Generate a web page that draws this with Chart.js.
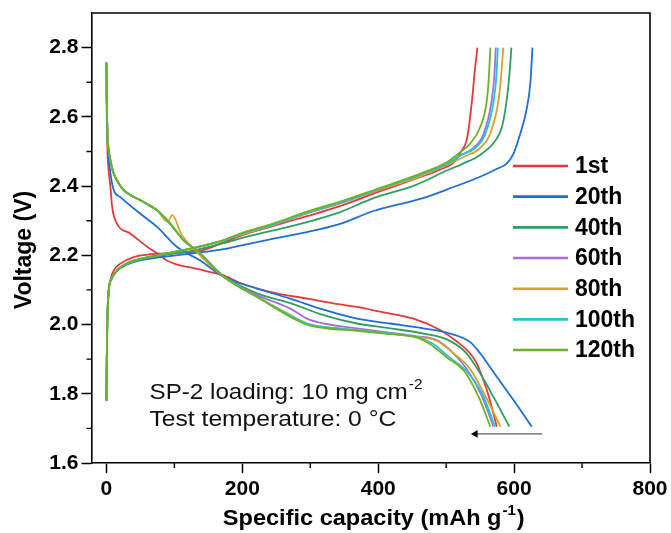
<!DOCTYPE html>
<html><head><meta charset="utf-8">
<script src="https://cdn.jsdelivr.net/npm/chart.js@4.4.1/dist/chart.umd.min.js"></script>
<style>html,body{margin:0;padding:0;background:#fff}#wrap{width:671px;height:533px;position:relative}</style>
</head><body><div id="wrap"><canvas id="c"></canvas></div>
<script>
// ---------- data ----------
const cycles = ['1st', '20th', '40th', '60th', '80th', '100th', '120th'];
const colors = ['#e5393c', '#1f6fd8', '#2f9f5f', '#a46fdc', '#d8a228', '#22c5d6', '#6db325'];

const xMajorTicks = [0, 200, 400, 600, 800];
const xMinorTicks = [100, 300, 500, 700];
const yMajorTicks = [1.6, 1.8, 2.0, 2.2, 2.4, 2.6, 2.8];
const yMinorTicks = [1.7, 1.9, 2.1, 2.3, 2.5, 2.7];

// charge curves (capacity mAh/g, voltage V)
const charge1st_cap = [0, 0.5, 1.2, 3, 6, 12, 20.6, 40, 65, 99, 138, 170, 197, 246, 295, 339, 400, 450, 490, 512, 522, 531, 538, 542, 546];
const charge1st_v   = [1.78, 1.9, 2.0, 2.09, 2.13, 2.16, 2.176, 2.195, 2.203, 2.207, 2.213, 2.235, 2.256, 2.285, 2.313, 2.339, 2.383, 2.418, 2.447, 2.47, 2.5, 2.54, 2.647, 2.73, 2.8];
const charge20th_cap = [0, 0.5, 1.2, 3.4, 7, 15.7, 35, 74.6, 123.5, 172.5, 197, 246, 295, 344, 393, 430, 466, 501, 550, 575, 589, 599, 609, 618, 624, 627];
const charge20th_v   = [1.78, 1.9, 2.0, 2.10, 2.13, 2.155, 2.177, 2.193, 2.205, 2.218, 2.228, 2.248, 2.267, 2.291, 2.328, 2.347, 2.365, 2.39, 2.427, 2.45, 2.465, 2.493, 2.551, 2.618, 2.7, 2.8];
const charge40th_cap = [0, 0.5, 1.2, 3.4, 7, 15.7, 35, 74.6, 123.5, 172.5, 197, 246, 295, 344, 393, 455, 501, 525, 550, 572, 582, 589, 593, 596];
const charge40th_v   = [1.78, 1.9, 2.0, 2.10, 2.13, 2.155, 2.178, 2.197, 2.212, 2.235, 2.249, 2.272, 2.296, 2.325, 2.365, 2.403, 2.445, 2.465, 2.49, 2.53, 2.57, 2.647, 2.72, 2.8];
const charge60th_cap = [0, 0.5, 1.2, 3.4, 7, 15.7, 35, 74.6, 123.5, 172.5, 197, 246, 295, 344, 393, 462, 500, 520, 540, 555, 567, 571, 573];
const charge60th_v   = [1.78, 1.9, 2.0, 2.10, 2.13, 2.157, 2.181, 2.2, 2.219, 2.243, 2.259, 2.287, 2.321, 2.35, 2.384, 2.43, 2.462, 2.487, 2.51, 2.55, 2.647, 2.72, 2.8];
const charge80th_cap = [0, 0.5, 1.2, 3.4, 7, 15.7, 35, 74.6, 123.5, 172.5, 197, 246, 295, 344, 393, 462, 500, 525.5, 550, 564.7, 577, 581, 584];
const charge80th_v   = [1.78, 1.9, 2.0, 2.10, 2.13, 2.157, 2.181, 2.2, 2.219, 2.243, 2.259, 2.288, 2.322, 2.351, 2.384, 2.428, 2.46, 2.484, 2.51, 2.551, 2.647, 2.72, 2.8];
const charge100th_cap = [0, 0.5, 1.2, 3.4, 7, 15.7, 35, 74.6, 123.5, 172.5, 197, 246, 295, 344, 393, 462, 500, 520, 542.6, 557.4, 570, 574, 576];
const charge100th_v   = [1.78, 1.9, 2.0, 2.10, 2.13, 2.157, 2.181, 2.2, 2.219, 2.243, 2.261, 2.289, 2.323, 2.352, 2.386, 2.433, 2.463, 2.488, 2.51, 2.55, 2.647, 2.72, 2.8];
const charge120th_cap = [0, 0.5, 1.2, 3.4, 7, 15.7, 35, 74.6, 123.5, 172.5, 197, 246, 295, 344, 393, 462, 500, 520.6, 535, 550, 559.8, 563, 565];
const charge120th_v   = [1.78, 1.9, 2.0, 2.10, 2.13, 2.157, 2.181, 2.2, 2.219, 2.244, 2.263, 2.292, 2.326, 2.355, 2.388, 2.436, 2.468, 2.498, 2.522, 2.57, 2.647, 2.72, 2.8];

// discharge curves
const dis1st_cap = [0, 0.5, 1.5, 3, 5.9, 8.4, 15.7, 35, 60, 75, 89, 110, 123.5, 150, 172.5, 197, 246, 295, 344, 368.7, 403, 452, 491, 515.7, 535, 545, 553, 560, 566, 572, 574.5];
const dis1st_v   = [2.68, 2.6, 2.5, 2.45, 2.397, 2.339, 2.291, 2.263, 2.225, 2.205, 2.185, 2.17, 2.165, 2.153, 2.142, 2.12, 2.092, 2.075, 2.058, 2.051, 2.037, 2.017, 1.984, 1.951, 1.917, 1.888, 1.85, 1.81, 1.77, 1.724, 1.705];
const dis20th_cap = [0, 0.5, 1.5, 3, 5.9, 10.8, 20.6, 50, 74.5, 104, 138, 172.5, 221.6, 270.6, 319.6, 368.7, 417.6, 466.6, 506, 535, 550, 574.5, 599, 626];
const dis20th_v   = [2.758, 2.65, 2.55, 2.49, 2.436, 2.388, 2.368, 2.32, 2.282, 2.224, 2.185, 2.138, 2.104, 2.075, 2.043, 2.017, 2.003, 1.989, 1.974, 1.95, 1.917, 1.849, 1.782, 1.705];
const dis40th_cap = [0, 0.5, 1.5, 3.4, 5.9, 10, 15.7, 25.5, 50, 74.5, 94, 113.7, 133, 172.5, 221.6, 270.6, 319.6, 368.7, 417.6, 466.6, 501, 530, 550, 569.6, 593];
const dis40th_v   = [2.755, 2.65, 2.55, 2.503, 2.474, 2.44, 2.416, 2.388, 2.359, 2.33, 2.291, 2.243, 2.214, 2.14, 2.09, 2.062, 2.027, 2.003, 1.989, 1.974, 1.957, 1.917, 1.859, 1.791, 1.705];
const dis60th_cap = [0, 0.5, 1.5, 3.4, 5.9, 10, 15.7, 25.5, 50, 74.5, 94, 113.7, 133, 172.5, 221.6, 270.6, 295, 319.6, 368.7, 408, 457, 486, 510.8, 530, 551, 569.6];
const dis60th_v   = [2.75, 2.65, 2.55, 2.503, 2.474, 2.44, 2.416, 2.388, 2.359, 2.33, 2.291, 2.243, 2.214, 2.138, 2.085, 2.046, 2.017, 2.003, 1.989, 1.979, 1.966, 1.955, 1.917, 1.872, 1.8, 1.705];
const dis80th_cap = [0, 0.5, 1.5, 3.4, 5.9, 10, 15.7, 25.5, 50, 74.5, 90, 97, 110, 128, 172.5, 221.6, 270.6, 295, 319.6, 368.7, 417.6, 457, 486, 510.8, 535, 556, 580];
const dis80th_v   = [2.75, 2.65, 2.55, 2.503, 2.474, 2.44, 2.416, 2.388, 2.359, 2.33, 2.297, 2.316, 2.262, 2.22, 2.138, 2.08, 2.028, 2.003, 1.993, 1.984, 1.974, 1.964, 1.953, 1.917, 1.872, 1.8, 1.705];
const dis100th_cap = [0, 0.5, 1.5, 3.4, 5.9, 10, 15.7, 25.5, 50, 74.5, 94, 113.7, 133, 172.5, 221.6, 270.6, 295, 319.6, 368.7, 417.6, 457, 480, 505, 530, 553, 572];
const dis100th_v   = [2.752, 2.65, 2.55, 2.503, 2.474, 2.44, 2.416, 2.388, 2.359, 2.33, 2.291, 2.243, 2.214, 2.138, 2.08, 2.026, 2.003, 1.993, 1.984, 1.974, 1.964, 1.945, 1.905, 1.865, 1.8, 1.705];
const dis120th_cap = [0, 0.5, 1.5, 3.4, 5.9, 10, 15.7, 25.5, 50, 74.5, 94, 113.7, 133, 172.5, 221.6, 270.6, 295, 319.6, 368.7, 417.6, 457, 476.6, 501, 525.5, 548, 565];
const dis120th_v   = [2.758, 2.65, 2.55, 2.503, 2.474, 2.44, 2.416, 2.388, 2.359, 2.33, 2.291, 2.243, 2.214, 2.138, 2.08, 2.022, 2.0, 1.99, 1.982, 1.972, 1.962, 1.943, 1.905, 1.868, 1.79, 1.705];

// direction arrow
const arrowCap = [641, 543];
const arrowV = [1.684, 1.684];

// ---------- build ----------
const chargeCaps = [charge1st_cap, charge20th_cap, charge40th_cap, charge60th_cap, charge80th_cap, charge100th_cap, charge120th_cap];
const chargeVs = [charge1st_v, charge20th_v, charge40th_v, charge60th_v, charge80th_v, charge100th_v, charge120th_v];
const disCaps = [dis1st_cap, dis20th_cap, dis40th_cap, dis60th_cap, dis80th_cap, dis100th_cap, dis120th_cap];
const disVs = [dis1st_v, dis20th_v, dis40th_v, dis60th_v, dis80th_v, dis100th_v, dis120th_v];

const zip = (xs, ys) => xs.map((x, i) => ({x, y: ys[i]}));
const datasets = [];
for (let i = cycles.length - 1; i >= 0; i--) {
  const base = {borderColor: colors[i], backgroundColor: colors[i], borderWidth: 1.8, pointRadius: 0,
    showLine: true, fill: false, cubicInterpolationMode: 'monotone'};
  datasets.push(Object.assign({label: cycles[i], data: zip(chargeCaps[i], chargeVs[i])}, base));
  datasets.push(Object.assign({label: cycles[i] + ' discharge', data: zip(disCaps[i], disVs[i])}, base));
}
datasets.push({label: 'arrow', data: zip(arrowCap, arrowV), showLine: true, borderColor: '#8a8a8a', borderWidth: 1.6,
  pointRadius: [0, 4.5], pointStyle: 'triangle', pointRotation: 270, pointBackgroundColor: '#000', pointBorderColor: '#000', pointBorderWidth: 0});

const FONT = "'Liberation Sans', Arial, sans-serif";

function stretchedText(ctx, text, x, y, sx) {
  ctx.save();
  ctx.translate(x, y);
  ctx.scale(sx, 1);
  ctx.fillText(text, 0, 0);
  ctx.restore();
  return ctx.measureText(text).width * sx;
}

const decor = {
  id: 'decor',
  afterDraw(chart) {
    const {ctx, chartArea: a, scales: {x, y}} = chart;
    ctx.save();
    ctx.strokeStyle = '#000';
    ctx.lineWidth = 1.6;
    ctx.beginPath();
    ctx.moveTo(a.left, a.top); ctx.lineTo(a.right, a.top); ctx.lineTo(a.right, a.bottom);
    ctx.stroke();
    ctx.lineWidth = 1.4;
    ctx.beginPath();
    xMinorTicks.forEach(v => { const p = x.getPixelForValue(v); ctx.moveTo(p, a.bottom); ctx.lineTo(p, a.bottom + 5); });
    yMinorTicks.forEach(v => { const p = y.getPixelForValue(v); ctx.moveTo(a.left, p); ctx.lineTo(a.left - 5, p); });
    ctx.stroke();

    // legend
    const lx0 = a.right - 137, lx1 = a.right - 82, tx = a.right - 75;
    ctx.font = 'bold 23px ' + FONT;
    ctx.textBaseline = 'middle';
    ctx.textAlign = 'left';
    cycles.forEach((c, i) => {
      const yy = a.top + 153 + i * 30.67;
      ctx.strokeStyle = colors[i]; ctx.lineWidth = 2.6;
      ctx.beginPath(); ctx.moveTo(lx0, yy); ctx.lineTo(lx1, yy); ctx.stroke();
      ctx.fillStyle = '#000';
      ctx.fillText(c, tx, yy + 1);
    });

    // annotations
    ctx.fillStyle = '#111';
    ctx.textBaseline = 'alphabetic';
    const ax = a.left + 58;
    ctx.font = '22px ' + FONT;
    const w1 = stretchedText(ctx, 'SP-2 loading: 10 mg cm', ax, a.top + 386, 1.1);
    ctx.font = '14px ' + FONT;
    stretchedText(ctx, '-2', ax + w1 + 1, a.top + 376, 1.1);
    ctx.font = '22px ' + FONT;
    stretchedText(ctx, 'Test temperature: 0 \u00B0C', ax, a.top + 413, 1.12);

    // x title with superscript
    ctx.fillStyle = '#000';
    const S = 1.07;
    ctx.font = 'bold 22px ' + FONT;
    const wA = ctx.measureText('Specific capacity (mAh g').width * S;
    const wC = ctx.measureText(')').width * S;
    ctx.font = 'bold 14px ' + FONT;
    const wB = ctx.measureText('-1').width * S;
    const cx = (a.left + a.right) / 2 + 3;
    const sx = cx - (wA + wB + wC + 2) / 2;
    const by = a.bottom + 62;
    ctx.font = 'bold 22px ' + FONT;
    stretchedText(ctx, 'Specific capacity (mAh g', sx, by, S);
    ctx.font = 'bold 14px ' + FONT;
    stretchedText(ctx, '-1', sx + wA + 1, by - 10, S);
    ctx.font = 'bold 22px ' + FONT;
    stretchedText(ctx, ')', sx + wA + wB + 2, by, S);

    // y title
    ctx.translate(31, a.top + 237);
    ctx.rotate(-Math.PI / 2);
    ctx.textAlign = 'center';
    ctx.font = 'bold 23px ' + FONT;
    ctx.fillText('Voltage (V)', 0, 0);
    ctx.restore();
  }
};

new Chart(document.getElementById('c'), {
  type: 'scatter',
  data: {datasets},
  options: {
    responsive: true, maintainAspectRatio: false, animation: false,
    layout: {padding: {top: 13, right: 21, left: 0, bottom: 0}},
    plugins: {legend: {display: false}, tooltip: {enabled: false}},
    scales: {
      x: {
        type: 'linear', min: -22, max: 800,
        afterBuildTicks: s => { s.ticks = xMajorTicks.map(v => ({value: v})); },
        afterFit: s => { s.height = 70; s.paddingLeft = 0; s.paddingRight = 0; },
        grid: {drawOnChartArea: false, drawTicks: true, tickLength: 10, tickWidth: 1.5, tickColor: '#000'},
        border: {display: true, color: '#000', width: 1.6},
        ticks: {color: '#000', font: {family: FONT, size: 21, weight: 'bold'}, padding: 4, maxRotation: 0,
          callback: v => String(v)}
      },
      y: {
        type: 'linear', min: 1.6, max: 2.9,
        afterBuildTicks: s => { s.ticks = yMajorTicks.map(v => ({value: v})); },
        afterFit: s => { s.width = 91.5; s.paddingTop = 0; s.paddingBottom = 0; },
        grid: {drawOnChartArea: false, drawTicks: true, tickLength: 10, tickWidth: 1.5, tickColor: '#000'},
        border: {display: true, color: '#000', width: 1.6},
        ticks: {color: '#000', font: {family: FONT, size: 21, weight: 'bold'}, padding: 3,
          callback: v => Number(v).toFixed(1)}
      }
    }
  },
  plugins: [decor]
});
</script>
</body></html>
